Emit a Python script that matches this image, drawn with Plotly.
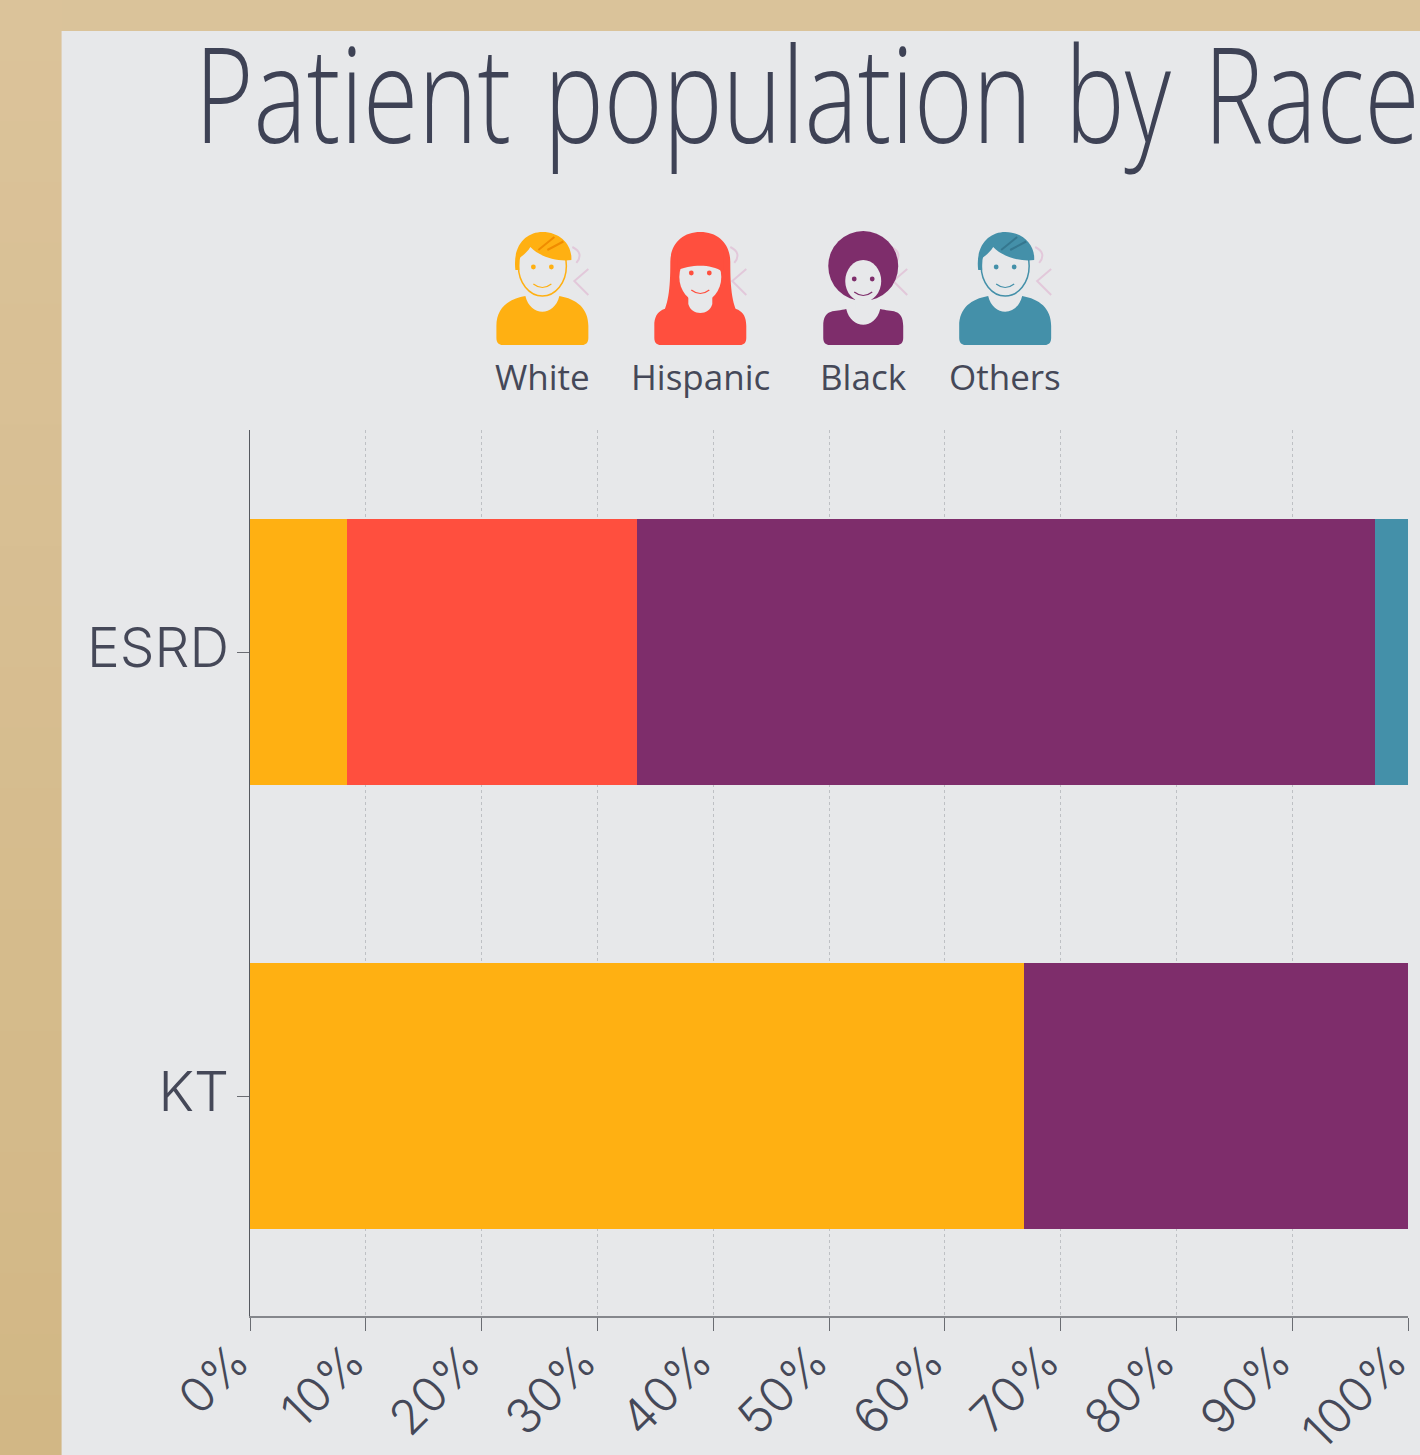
import plotly.graph_objects as go

categories = ["ESRD", "KT"]
white = [8.4, 66.8]
hispanic = [25.05, 0]
black = [63.7, 33.2]
others = [2.85, 0]
series_names = ["White", "Hispanic", "Black", "Others"]
series_colors = ["#FFB012", "#FF4F3E", "#7E2D6B", "#4490A9"]
hair_shades = ["#F08C00", "#F03A2C", "#6E2560", "#35778F"]
tick_values = list(range(0, 101, 10))
tick_labels = [f"{v}%" for v in tick_values]

W, H = 1420, 1455
L, R, T, B = 249.5, 1408, 430, 1316
BG = "#E7E8EA"
TEXT = "#454858"


def X(p):
    return (p - L) / (R - L)


def Y(p):
    return (B - p) / (B - T)


def path(fill, d, line=None, lw=0):
    out = []
    for seg in d:
        out.append(seg[0])
        vals = seg[1:]
        pts = []
        for i in range(0, len(vals), 2):
            pts.append(f"{X(vals[i]):.5f},{Y(vals[i + 1]):.5f}")
        out.append(" ".join(pts))
    return dict(type="path", xref="paper", yref="paper", layer="below",
                path=" ".join(out), fillcolor=fill,
                line=dict(color=line or fill, width=lw))


def ell(cx, cy, rx, ry, fill, line=None, lw=0):
    return dict(type="circle", xref="paper", yref="paper", layer="below",
                x0=X(cx - rx), x1=X(cx + rx), y0=Y(cy + ry), y1=Y(cy - ry),
                fillcolor=fill, line=dict(color=line or fill, width=lw))


def torso(cx, hw, top, color, notch=21):
    return path(color, [
        ("M", cx - hw, 338), ("L", cx - hw, 326), ("C", cx - hw, 308, cx - hw + 12, top + 3, cx - 17, top),
        ("C", cx - 12, top + notch, cx + 12, top + notch, cx + 17, top),
        ("C", cx + hw - 12, top + 3, cx + hw, 308, cx + hw, 326),
        ("L", cx + hw, 338),
        ("C", cx + hw, 343, cx + hw - 3, 345, cx + hw - 6, 345),
        ("L", cx - hw + 6, 345),
        ("C", cx - hw + 3, 345, cx - hw, 343, cx - hw, 338), ("Z",),
    ])


def face_features(cx, cy, color, smile_y):
    items = [ell(cx - 9, cy, 2.4, 2.4, color), ell(cx + 9, cy, 2.4, 2.4, color)]
    items.append(dict(type="path", xref="paper", yref="paper", layer="below",
                      path=f"M {X(cx - 9):.5f},{Y(smile_y):.5f} Q {X(cx):.5f},{Y(smile_y + 7):.5f} {X(cx + 9):.5f},{Y(smile_y):.5f}",
                      line=dict(color=color, width=1.2)))
    return items


def squiggle(cx, top):
    pink = "#E2C8DA"
    d = f"M {X(cx + 30):.5f},{Y(top + 4):.5f} Q {X(cx + 42):.5f},{Y(top + 10):.5f} {X(cx + 34):.5f},{Y(top + 20):.5f} " \
        f"M {X(cx + 46):.5f},{Y(top + 26):.5f} L {X(cx + 32):.5f},{Y(top + 38):.5f} L {X(cx + 46):.5f},{Y(top + 52):.5f}"
    return dict(type="path", xref="paper", yref="paper", layer="below", path=d,
                line=dict(color=pink, width=2))


def man(cx, color, shade):
    items = [squiggle(cx, 243), torso(cx, 46, 296, color)]
    items.append(ell(cx, 266, 24, 30, BG, color, 1.5))
    items.append(path(color, [
        ("M", cx - 27, 270), ("C", cx - 30, 245, cx - 16, 232, cx, 232),
        ("C", cx + 18, 232, cx + 30, 245, cx + 29, 260),
        ("C", cx + 14, 262, cx - 4, 256, cx - 12, 247),
        ("C", cx - 15, 252, cx - 20, 256, cx - 23, 258),
        ("L", cx - 23, 270), ("Z",),
    ]))
    for dx in (0, 9):
        items.append(dict(type="path", xref="paper", yref="paper", layer="below",
                          path=f"M {X(cx - 4 + dx):.5f},{Y(250):.5f} L {X(cx + 12 + dx):.5f},{Y(237 + dx / 2):.5f}",
                          line=dict(color=shade, width=2)))
    items += face_features(cx, 267, color, 284)
    return items


def woman(cx, color, shade):
    items = [squiggle(cx, 243), torso(cx, 46, 305, color, notch=0)]
    items.append(path(color, [
        ("M", cx - 40, 318), ("C", cx - 32, 306, cx - 30, 290, cx - 30, 262),
        ("C", cx - 30, 244, cx - 18, 232, cx, 232),
        ("C", cx + 18, 232, cx + 30, 244, cx + 30, 262),
        ("C", cx + 30, 290, cx + 32, 306, cx + 40, 318), ("Z",),
    ]))
    items.append(ell(cx, 277, 21, 25, BG))
    items.append(path(color, [
        ("M", cx - 23, 270), ("C", cx - 12, 266, cx + 8, 262, cx + 23, 272),
        ("L", cx + 23, 250), ("L", cx - 23, 250), ("Z",),
    ]))
    items.append(path(BG, [
        ("M", cx - 12, 296), ("L", cx + 12, 296), ("L", cx + 12, 304),
        ("C", cx + 9, 316, cx - 9, 316, cx - 12, 304), ("Z",),
    ]))
    items += face_features(cx, 273, color, 290)
    return items


def afro(cx, color, shade):
    items = [squiggle(cx - 2, 243), torso(cx, 40, 309, color)]
    items.append(ell(cx, 266, 35, 35, color))
    items.append(ell(cx, 281, 18, 21, BG))
    items.append(path(BG, [
        ("M", cx - 8, 298), ("L", cx + 8, 298), ("L", cx + 8, 309),
        ("C", cx + 6, 318, cx - 6, 318, cx - 8, 309), ("Z",),
    ]))
    items += face_features(cx, 279, color, 292)
    return items


icon_makers = [man, woman, afro, man]
icon_x = [542, 700, 863, 1005]
label_y = [376, 376, 376, 377]

# left margin darkens gently toward the bottom of the page
STEPS = 24
top_rgb, bot_rgb = (219, 195, 154), (210, 183, 133)
shapes = []
for i in range(STEPS):
    f = i / (STEPS - 1)
    c = tuple(round(a + (b - a) * f) for a, b in zip(top_rgb, bot_rgb))
    y0 = H * i / STEPS
    y1 = H * (i + 1) / STEPS + 1
    shapes.append(dict(type="rect", xref="paper", yref="paper", layer="below",
                       x0=X(-5), x1=X(62), y0=Y(y1), y1=Y(y0),
                       fillcolor=f"rgb{c}", line_width=0))
shapes.append(dict(type="rect", xref="paper", yref="paper", layer="below",
                   x0=X(61), x1=X(W + 5), y0=Y(H + 5), y1=Y(31), fillcolor=BG, line_width=0))
for mk, cx, c, s in zip(icon_makers, icon_x, series_colors, hair_shades):
    shapes += mk(cx, c, s)

annotations = [
    dict(text=n, x=X(cx), y=Y(ly), xref="paper", yref="paper", xanchor="center",
         yanchor="middle", showarrow=False,
         font=dict(family="Open Sans", size=35, color=TEXT))
    for n, cx, ly in zip(series_names, icon_x, label_y)
]

fig = go.Figure()
for name, vals, col in zip(series_names, [white, hispanic, black, others], series_colors):
    fig.add_bar(y=categories, x=vals, name=name, orientation="h",
                marker=dict(color=col, line_width=0), width=0.6)

fig.update_layout(
    width=W, height=H, barmode="stack", showlegend=False,
    margin=dict(l=L, r=W - R, t=T, b=H - B, pad=0, autoexpand=False),
    paper_bgcolor="#DAC39A", plot_bgcolor="rgba(0,0,0,0)",
    title=dict(text="Patient population by Race", x=807 / W, xref="container", xanchor="center",
               y=1 - 97 / H, yref="container", yanchor="middle",
               font=dict(family="Open Sans", size=132, weight=300, color="#3E4255")),
    shapes=shapes, annotations=annotations,
)
fig.update_xaxes(range=[0, 100], tickvals=tick_values, ticktext=tick_labels, tickangle=-45,
                 showgrid=True, gridcolor="#BEC0C4", griddash="3px,3px", gridwidth=1,
                 showline=True, linecolor="#85878C", linewidth=2, zeroline=False,
                 ticks="outside", ticklen=13, tickcolor="#6A6C72", tickwidth=1,
                 ticklabeloverflow="allow", ticklabelshift=-15, ticklabelstandoff=-17,
                 tickfont=dict(family="Inter", size=48, weight=300, color=TEXT))
fig.update_yaxes(type="category", categoryorder="array", categoryarray=categories,
                 range=[1.4955, -0.5], showgrid=False, showline=True, linecolor="#55585F",
                 linewidth=1, zeroline=False, ticks="outside", ticklen=12,
                 tickcolor="#6A6C72", tickwidth=1, ticklabelstandoff=-3, ticklabelshift=4,
                 tickfont=dict(family="Inter", size=55, weight=300, color=TEXT))

# Narrow the title to the condensed width of the reference lettering.
post = """
document.body.style.margin='0';document.body.style.overflow='hidden';
var t=document.querySelector('.gtitle');
if(t){t.style.wordSpacing='9px';var b=t.getBBox();var s=1225/b.width;var c=808;
t.setAttribute('transform','translate('+c+',0) scale('+s+',1) translate('+(-c)+',0)');}
"""
fig.write_html("out.html", post_script=post, config={"displayModeBar": False})
